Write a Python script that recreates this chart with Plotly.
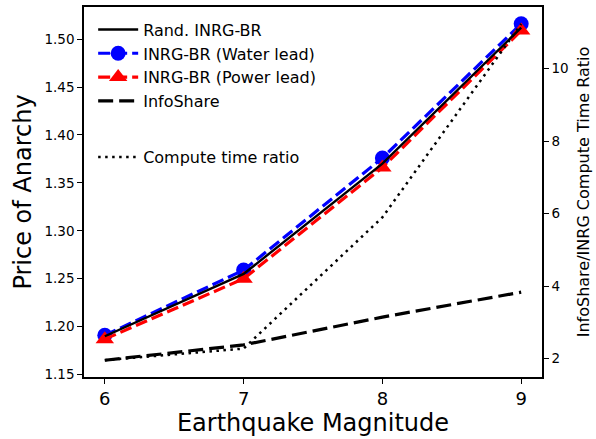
import plotly.graph_objects as go

# Earthquake magnitudes on the x axis
magnitude = [6, 7, 8, 9]

# Price of anarchy for each method
rand_inrg_br = [1.190, 1.255, 1.370, 1.512]
inrg_water_lead = [1.191, 1.259, 1.376, 1.516]
inrg_power_lead = [1.187, 1.250, 1.366, 1.509]
infoshare = [1.165, 1.181, 1.210, 1.236]

# InfoShare / INRG compute time ratio (right axis)
compute_ratio = [1.96, 2.28, 5.90, 11.23]

left_ticks = [1.15, 1.20, 1.25, 1.30, 1.35, 1.40, 1.45, 1.50]
right_ticks = [2, 4, 6, 8, 10]

FONT = "DejaVu Sans"

fig = go.Figure()

fig.add_trace(go.Scatter(
    x=magnitude, y=inrg_water_lead, name="INRG-BR (Water lead)",
    mode="lines+markers", legendrank=2, legendgroup="g2",
    line=dict(color="blue", width=3.2, dash="12px,5px"),
    marker=dict(symbol="circle", size=15, color="blue"),
))
fig.add_trace(go.Scatter(
    x=magnitude, y=inrg_power_lead, name="INRG-BR (Power lead)",
    mode="lines+markers", legendrank=3, legendgroup="g3",
    line=dict(color="red", width=3.2, dash="12px,5px"),
    marker=dict(symbol="triangle-up", size=16, color="red"),
))
fig.add_trace(go.Scatter(
    x=magnitude, y=rand_inrg_br, name="Rand. INRG-BR",
    mode="lines", legendrank=1, legendgroup="g1",
    line=dict(color="black", width=2.4),
))
fig.add_trace(go.Scatter(
    x=magnitude, y=infoshare, name="InfoShare",
    mode="lines", legendrank=4, legendgroup="g4",
    line=dict(color="black", width=3.2, dash="15px,6px"),
))
fig.add_trace(go.Scatter(
    x=magnitude, y=compute_ratio, name="Compute time ratio",
    mode="lines", yaxis="y2", legend="legend2",
    line=dict(color="black", width=2.5, dash="2.5px,4.5px"),
))

axis_common = dict(
    showgrid=False, zeroline=False, showline=True, linecolor="black",
    linewidth=1.5, ticks="outside", ticklen=5, tickwidth=1.2,
    tickcolor="black",
)

fig.update_layout(
    width=596, height=439,
    margin=dict(l=84, r=54, t=5, b=62),
    plot_bgcolor="white", paper_bgcolor="white",
    font=dict(family=FONT, color="black"),
    xaxis=dict(
        **axis_common, mirror=True, range=[5.85, 9.15],
        tickvals=magnitude, ticktext=[str(m) for m in magnitude],
        tickfont=dict(family=FONT, size=18, color="black"),
        title=dict(text="Earthquake Magnitude",
                   font=dict(family=FONT, size=24), standoff=4),
    ),
    yaxis=dict(
        **axis_common, mirror=True, range=[1.1475, 1.5335],
        tickvals=left_ticks, ticktext=[f"{v:.2f}" for v in left_ticks],
        tickfont=dict(family=FONT, size=13.5, color="black"),
        title=dict(text="Price of Anarchy",
                   font=dict(family=FONT, size=24), standoff=6),
    ),
    yaxis2=dict(
        **axis_common, overlaying="y", side="right", range=[1.496, 11.70],
        tickvals=right_ticks, ticktext=[str(v) for v in right_ticks],
        tickfont=dict(family=FONT, size=13.5, color="black"),
        title=dict(text="InfoShare/INRG Compute Time Ratio",
                   font=dict(family=FONT, size=16), standoff=10),
    ),
    legend=dict(
        x=0.02, y=0.985, xanchor="left", yanchor="top",
        bgcolor="rgba(0,0,0,0)", borderwidth=0,
        font=dict(family=FONT, size=16),
        traceorder="grouped", tracegroupgap=0, itemwidth=40,
    ),
    legend2=dict(
        x=0.02, y=0.64, xanchor="left", yanchor="top",
        bgcolor="rgba(0,0,0,0)", borderwidth=0,
        font=dict(family=FONT, size=16), itemwidth=40,
    ),
    showlegend=True,
)

fig.write_html("out.html")
